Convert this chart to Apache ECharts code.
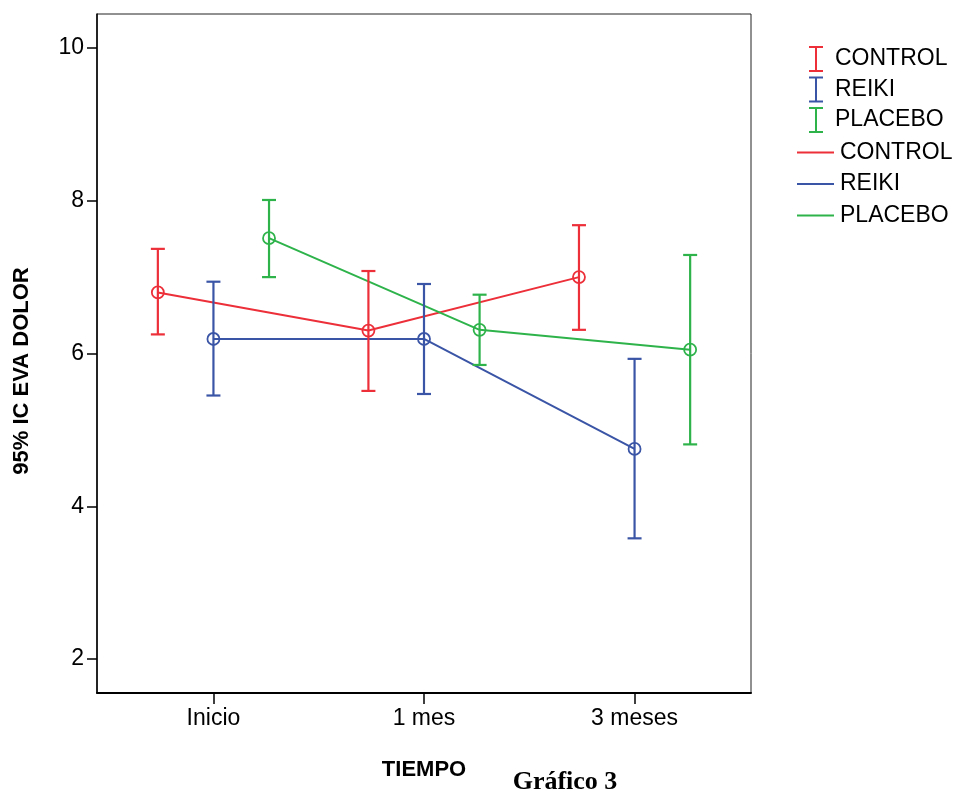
<!DOCTYPE html>
<html>
<head>
<meta charset="utf-8">
<script src="https://cdn.jsdelivr.net/npm/echarts@6/dist/echarts.min.js"></script>
<style>html,body{margin:0;padding:0;background:#fff;}#c{width:957px;height:792px;}</style>
</head>
<body>
<div id="c"></div>
<script>
var categories = ['Inicio', '1 mes', '3 meses'];
var groups = ['CONTROL', 'REIKI', 'PLACEBO'];
var controlMean = [6.80, 6.30, 7.00];
var controlLow  = [6.25, 5.51, 6.31];
var controlHigh = [7.37, 7.08, 7.68];
var reikiMean = [6.19, 6.19, 4.75];
var reikiLow  = [5.45, 5.47, 3.58];
var reikiHigh = [6.94, 6.91, 5.93];
var placeboMean = [7.51, 6.31, 6.05];
var placeboLow  = [7.00, 5.85, 4.81];
var placeboHigh = [8.01, 6.77, 7.29];
var yTicks = [2, 4, 6, 8, 10];

var colors = ['#ec2f39', '#3b55a6', '#2eb34b'];
var offsets = [-0.264, 0, 0.264];
var means = [controlMean, reikiMean, placeboMean];
var lows = [controlLow, reikiLow, placeboLow];
var highs = [controlHigh, reikiHigh, placeboHigh];

var font = 'Liberation Sans, Arial, sans-serif';

function renderErr(params, api) {
  var x = api.value(0), m = api.value(1), lo = api.value(2), hi = api.value(3);
  var pm = api.coord([x, m]);
  var pl = api.coord([x, lo]);
  var ph = api.coord([x, hi]);
  var c = api.visual('color');
  var hw = 7;
  var ls = {stroke: c, lineWidth: 2.2, fill: null};
  return {
    type: 'group',
    children: [
      {type: 'line', shape: {x1: pl[0], y1: pl[1], x2: ph[0], y2: ph[1]}, style: ls},
      {type: 'line', shape: {x1: pl[0] - hw, y1: pl[1], x2: pl[0] + hw, y2: pl[1]}, style: ls},
      {type: 'line', shape: {x1: ph[0] - hw, y1: ph[1], x2: ph[0] + hw, y2: ph[1]}, style: ls},
      {type: 'circle', shape: {cx: pm[0], cy: pm[1], r: 6}, style: {stroke: c, lineWidth: 1.8, fill: null}}
    ]
  };
}

var series = [];
groups.forEach(function (g, i) {
  series.push({
    type: 'custom',
    name: 'eb:' + g,
    renderItem: renderErr,
    itemStyle: {color: colors[i]},
    data: categories.map(function (c, k) {
      return [k + offsets[i], means[i][k], lows[i][k], highs[i][k]];
    }),
    z: 3
  });
});
groups.forEach(function (g, i) {
  series.push({
    type: 'line',
    name: g,
    symbol: 'none',
    lineStyle: {color: colors[i], width: 2},
    itemStyle: {color: colors[i]},
    data: categories.map(function (c, k) { return [k + offsets[i], means[i][k]]; }),
    z: 2
  });
});

var chart = echarts.init(document.getElementById('c'));
chart.setOption({
  animation: false,
  backgroundColor: '#fff',
  grid: {left: 97, right: 206, top: 14, bottom: 99, show: true, borderColor: '#222', borderWidth: 1, backgroundColor: 'transparent'},
  xAxis: {
    type: 'value', min: -0.553, max: 2.553,
    splitLine: {show: false},
    axisLine: {show: true, onZero: false, lineStyle: {color: '#000', width: 2}},
    axisTick: {show: true, customValues: [0, 1, 2], length: 11, lineStyle: {color: '#000', width: 1.5}},
    axisLabel: {customValues: [0, 1, 2], margin: 14, color: '#000', fontSize: 23, fontFamily: font,
      formatter: function (v) { return categories[Math.round(v)]; }}
  },
  yAxis: {
    type: 'value', min: 1.555, max: 10.445,
    splitLine: {show: false},
    axisLine: {show: true, onZero: false, lineStyle: {color: '#000', width: 1.5}},
    axisTick: {show: true, customValues: yTicks, length: 10, lineStyle: {color: '#000', width: 1.5}},
    axisLabel: {customValues: yTicks, margin: 13, color: '#000', fontSize: 23, fontFamily: font}
  },
  legend: [
    {
      data: groups.map(function (g) { return 'eb:' + g; }),
      orient: 'vertical', left: 809, top: 46, padding: 0,
      itemWidth: 14, itemHeight: 26, itemGap: 4.5,
      icon: 'path://M0,0H14V2H8V24H14V26H0V24H6V2H0Z',
      selectedMode: false,
      formatter: function (n) { return n.replace('eb:', ''); },
      textStyle: {fontSize: 23, fontFamily: font, color: '#000', padding: [0, 0, 0, 7]}
    },
    {
      data: groups.slice(),
      orient: 'vertical', left: 797, top: 141, padding: 0,
      itemWidth: 37, itemHeight: 24, itemGap: 8.5,
      icon: 'path://M0,11H37V13H0Z',
      itemStyle: {borderWidth: 0},
      selectedMode: false,
      textStyle: {fontSize: 23, fontFamily: font, color: '#000', padding: [0, 0, 0, 1]}
    }
  ],
  graphic: [
    {type: 'text', x: 22, y: 371, rotation: Math.PI / 2,
      style: {text: '95% IC EVA DOLOR', fontSize: 22, fontWeight: 'bold', fontFamily: font, fill: '#000', align: 'center', verticalAlign: 'middle'}},
    {type: 'text', x: 424, y: 770,
      style: {text: 'TIEMPO', fontSize: 22, fontWeight: 'bold', fontFamily: font, fill: '#000', align: 'center', verticalAlign: 'middle'}},
    {type: 'text', x: 565, y: 782,
      style: {text: 'Gráfico 3', fontSize: 26, fontWeight: 'bold', fontFamily: 'Liberation Serif, Times New Roman, serif', fill: '#000', align: 'center', verticalAlign: 'middle'}}
  ],
  series: series
});
</script>
</body>
</html>
